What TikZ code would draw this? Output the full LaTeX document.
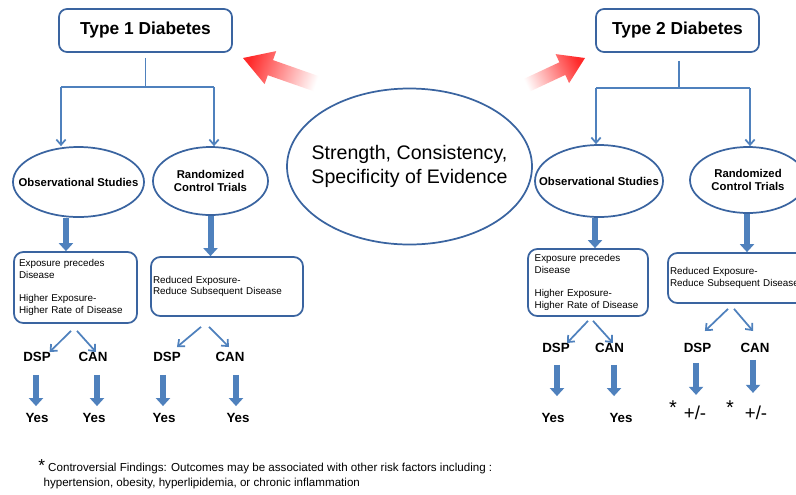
\documentclass[tikz,border=0pt]{standalone}
\usepackage{fontspec}
\setmainfont{Liberation Sans}
\usetikzlibrary{shapes.geometric,arrows.meta,positioning}
\definecolor{edgeblue}{HTML}{3A64A0}
\definecolor{linkblue}{HTML}{4F81BD}
\definecolor{fadered}{HTML}{FF2A2A}
\tikzset{
  titlebox/.style={draw=edgeblue, line width=1.3pt, rounded corners=6pt, font=\bfseries\fontsize{13}{15}\selectfont, minimum height=32.25pt},
  studyoval/.style={ellipse, draw=edgeblue, line width=1.3pt, inner sep=0pt},
  ovaltext/.style={font=\bfseries\fontsize{8.5}{10}\selectfont, align=center},
  findbox/.style={draw=edgeblue, line width=1.3pt, rounded corners=7pt, font=\fontsize{7.4}{8.8}\selectfont, align=left},
  outcome/.style={font=\bfseries\fontsize{10}{12}\selectfont, inner sep=0pt},
  mixed/.style={font=\fontsize{14}{16}\selectfont, inner sep=0pt},
  starmark/.style={font=\fontsize{15}{16}\selectfont, inner sep=0pt},
  thinline/.style={linkblue, line width=1.3pt},
  thinarrow/.style={-{Straight Barb[length=4pt,width=7pt]}, linkblue, line width=1.3pt},
  fatarrow/.style={-{Triangle[length=6pt,width=10.5pt]}, linkblue, line width=4.5pt},
}
\begin{document}
\begin{tikzpicture}[x=0.75pt, y=-0.75pt]
  \useasboundingbox[fill=white] (0,0) rectangle (796,494);

  % headings and the criteria oval
  \node[titlebox, minimum width=129.75pt] (type1) at (145.5,30.5) {Type 1 Diabetes};
  \node[titlebox, minimum width=122.25pt] (type2) at (677.5,30.5) {Type 2 Diabetes};
  \node[studyoval, minimum width=183.75pt, minimum height=117pt] (criteria) at (409.5,166.5) {};
  \node[align=center, font=\fontsize{14.7}{18}\selectfont] (criteriatext) at (criteria.center) {Strength, Consistency,\\Specificity of Evidence};

  % red pointers
  \shade[left color=fadered, right color=white, shading angle=70.7]
    (243,58) -- (276.2,51.1) -- (273.0,60.1) -- (322.6,77.5) -- (317.4,92.5) -- (267.8,75.2) -- (264.6,84.1) -- cycle;
  \shade[left color=fadered, right color=white, shading angle=-65]
    (585,58) -- (555.6,54.1) -- (559.4,62.3) -- (520.0,80.7) -- (526.0,93.3) -- (565.3,74.9) -- (569.1,83.1) -- cycle;

  % study ovals
  \node[studyoval, minimum width=98.25pt, minimum height=52.5pt, label={[ovaltext]center:Observational Studies}] (t1obs) at (78.5,182) {};
  \node[studyoval, minimum width=86.25pt, minimum height=51pt, label={[ovaltext]center:Randomized\\Control Trials}] (t1rct) at (210.5,181) {};
  \node[studyoval, minimum width=96pt, minimum height=54pt, label={[ovaltext]center:Observational Studies}] (t2obs) at (599,181) {};
  \node[studyoval, minimum width=87pt, minimum height=49.5pt, label={[ovaltext]center:Randomized\\Control Trials}] (t2rct) at (748,180) {};

  \coordinate (j1l) at (61,87);
  \coordinate (j1r) at (214,87);
  \coordinate (j2l) at (596,88);
  \coordinate (j2r) at (750,88);
  \draw[thinline] ([yshift=-3.75pt]type1.south) -- (type1.south |- j1l);
  \draw[thinline] (j1l) -- (j1r);
  \draw[thinarrow] (j1l) -- (j1l |- t1obs.north);
  \draw[thinarrow] (j1r) -- (j1r |- t1rct.north);
  \draw[thinline] ([xshift=1.1pt,yshift=-6pt]type2.south) -- ([xshift=1.1pt]type2.south |- j2l);
  \draw[thinline] (j2l) -- (j2r);
  \draw[thinarrow] (j2l) -- (j2l |- t2obs.north);
  \draw[thinarrow] (j2r) -- (j2r |- t2rct.north);

  % findings
  \node[findbox, minimum width=92.25pt, minimum height=53.25pt, text width=84.75pt, inner xsep=3.75pt] (t1find) at (75.5,287.5)
    {Exposure precedes\\Disease\\[8.8pt]Higher Exposure-\\Higher Rate of Disease};
  \node[findbox, minimum width=114pt, minimum height=44.25pt, text width=111pt, inner xsep=1.5pt] (t1trial) at (227,286.5)
    {Reduced Exposure-\\Reduce Subsequent Disease};
  \node[findbox, minimum width=90pt, minimum height=50.25pt, text width=80pt, inner xsep=5pt] (t2find) at (588,282.5)
    {Exposure precedes\\Disease\\[8.8pt]Higher Exposure-\\Higher Rate of Disease};
  \node[findbox, minimum width=114pt, minimum height=37.5pt, text width=111pt, inner xsep=1.5pt] (t2trial) at (744,278)
    {Reduced Exposure-\\Reduce Subsequent Disease};

  \draw[fatarrow] ([xshift=-9.4pt]t1obs.south) -- ([xshift=-9.4pt]t1obs.south |- t1find.north);
  \draw[fatarrow] (t1rct.south) -- (t1rct.south |- t1trial.north);
  \draw[fatarrow] ([xshift=-3pt]t2obs.south) -- ([xshift=-3pt]t2obs.south |- t2find.north);
  \draw[fatarrow] ([xshift=-0.75pt]t2rct.south) -- ([xshift=-0.75pt]t2rct.south |- t2trial.north);

  % outcomes
  \node[outcome] (t1dsp) at (37,357) {DSP};
  \node[outcome] (t1can) at (93,357) {CAN};
  \node[outcome] (t1dsp2) at (167,357) {DSP};
  \node[outcome] (t1can2) at (230,357) {CAN};
  \node[outcome] (t2dsp) at (556,348) {DSP};
  \node[outcome] (t2can) at (609.5,348) {CAN};
  \node[outcome] (t2dsp2) at (697.5,348) {DSP};
  \node[outcome] (t2can2) at (755,348) {CAN};

  \node[outcome] (t1yes) at (37,418) {Yes};
  \node[outcome] (t1yes2) at (94,418) {Yes};
  \node[outcome] (t1yes3) at (164,418) {Yes};
  \node[outcome] (t1yes4) at (238,418) {Yes};
  \node[outcome] (t2yes) at (553,418) {Yes};
  \node[outcome] (t2yes2) at (621,418) {Yes};
  \node[mixed] (t2pm) at (695,413) {+/-};
  \node[mixed] (t2pm2) at (756,413) {+/-};
  \node[starmark] (star1) at (673,408) {*};
  \node[starmark] (star2) at (730,408) {*};

  \draw[thinarrow] ([xshift=-3.4pt,yshift=-5.25pt]t1find.south) -- ([xshift=-1pt]t1dsp.north east);
  \draw[thinarrow] ([xshift=1.1pt,yshift=-5.25pt]t1find.south) -- ([xshift=2.25pt]t1can.north);
  \draw[thinarrow] ([xshift=-19.5pt,yshift=-7.5pt]t1trial.south) -- ([xshift=-3pt,yshift=3.75pt]t1dsp2.north east);
  \draw[thinarrow] ([xshift=-13.5pt,yshift=-7.5pt]t1trial.south) -- ([xshift=-0.75pt,yshift=3.75pt]t1can2.north);
  \draw[thinarrow] ([yshift=-3pt]t2find.south) -- ([xshift=-2.25pt]t2dsp.north east);
  \draw[thinarrow] ([xshift=3.75pt,yshift=-3pt]t2find.south) -- ([xshift=2.6pt]t2can.north);
  \draw[thinarrow] ([xshift=-12pt,yshift=-3.75pt]t2trial.south) -- ([xshift=-4.9pt,yshift=9pt]t2dsp2.north east);
  \draw[thinarrow] ([xshift=-7.5pt,yshift=-3.75pt]t2trial.south) -- ([xshift=-1.5pt,yshift=9pt]t2can2.north);

  \draw[fatarrow, shorten <=9.75pt, shorten >=5.25pt] ([xshift=-0.75pt]t1dsp.south) -- ([xshift=-0.75pt]t1dsp.south |- t1yes.north);
  \draw[fatarrow, shorten <=9.75pt, shorten >=5.25pt] ([xshift=3pt]t1can.south) -- ([xshift=3pt]t1can.south |- t1yes2.north);
  \draw[fatarrow, shorten <=9.75pt, shorten >=5.25pt] ([xshift=-3pt]t1dsp2.south) -- ([xshift=-3pt]t1dsp2.south |- t1yes3.north);
  \draw[fatarrow, shorten <=9.75pt, shorten >=5.25pt] ([xshift=4.5pt]t1can2.south) -- ([xshift=4.5pt]t1can2.south |- t1yes4.north);
  \draw[fatarrow, shorten <=9pt, shorten >=12.75pt] ([xshift=0.75pt]t2dsp.south) -- ([xshift=0.75pt]t2dsp.south |- t2yes.north);
  \draw[fatarrow, shorten <=9pt, shorten >=12.75pt] ([xshift=3.4pt]t2can.south) -- ([xshift=3.4pt]t2can.south |- t2yes2.north);
  \draw[fatarrow, shorten <=7.5pt, shorten >=8.25pt] ([xshift=-1.1pt]t2dsp2.south) -- ([xshift=-1.1pt]t2dsp2.south |- t2pm.north);
  \draw[fatarrow, shorten <=5.25pt, shorten >=9.75pt] ([xshift=-1.5pt]t2can2.south) -- ([xshift=-1.5pt]t2can2.south |- t2pm2.north);

  % note
  \node[anchor=west, align=left, inner sep=0pt, font=\fontsize{8.7}{11.25}\selectfont] (note) at (38,474.5)
    {{\fontsize{13}{12}\selectfont*} Controversial Findings: Outcomes may be associated with other risk factors including :\\\hspace*{4pt}hypertension, obesity, hyperlipidemia, or chronic inflammation};
\end{tikzpicture}
\end{document}
